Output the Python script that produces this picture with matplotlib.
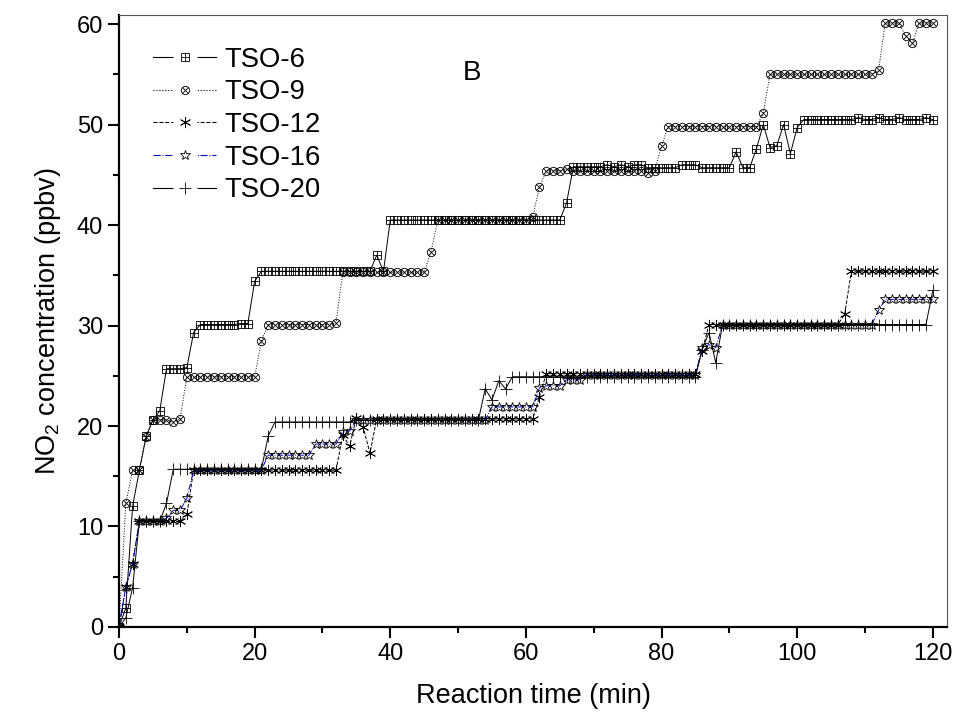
import matplotlib
matplotlib.use("Agg")
import matplotlib.pyplot as plt
from matplotlib.path import Path
from matplotlib.lines import Line2D
from matplotlib.legend_handler import HandlerTuple
from matplotlib.ticker import MultipleLocator

plt.rcParams['font.family'] = ['Liberation Sans', 'DejaVu Sans']
plt.rcParams['mathtext.default'] = 'regular'

# reaction time, one reading per minute
time_min = list(range(121))

tso6 = [0, 1.9, 12.0, 15.6, 19.0, 20.6, 21.5, 25.7, 25.7, 25.7,
        25.8, 29.3, 30.1, 30.1, 30.1, 30.1, 30.1, 30.1, 30.2, 30.2,
        34.4, 35.4, 35.4, 35.4, 35.4, 35.4, 35.4, 35.4, 35.4, 35.4,
        35.4, 35.4, 35.4, 35.4, 35.4, 35.4, 35.4, 35.4, 37.0, 35.4,
        40.5, 40.5, 40.5, 40.5, 40.5, 40.5, 40.5, 40.5, 40.5, 40.5,
        40.5, 40.5, 40.5, 40.5, 40.5, 40.5, 40.5, 40.5, 40.5, 40.5,
        40.5, 40.5, 40.5, 40.5, 40.5, 40.5, 42.2, 45.8, 45.8, 45.8,
        45.8, 45.8, 46.0, 45.8, 46.0, 45.8, 46.0, 46.0, 45.7, 45.7,
        45.7, 45.7, 45.7, 46.0, 46.0, 46.0, 45.7, 45.7, 45.7, 45.7,
        45.7, 47.3, 45.7, 45.7, 47.6, 50.0, 47.7, 47.9, 50.0, 47.1,
        49.7, 50.5, 50.5, 50.5, 50.5, 50.5, 50.5, 50.5, 50.5, 50.7,
        50.5, 50.5, 50.7, 50.5, 50.5, 50.7, 50.5, 50.5, 50.5, 50.7,
        50.5]

tso9 = [0, 12.3, 15.6, 15.6, 18.9, 20.6, 20.6, 20.6, 20.4, 20.7,
        24.9, 24.9, 24.9, 24.9, 24.9, 24.9, 24.9, 24.9, 24.9, 24.9,
        24.9, 28.5, 30.1, 30.1, 30.1, 30.1, 30.1, 30.1, 30.1, 30.1,
        30.1, 30.1, 30.3, 35.3, 35.3, 35.3, 35.3, 35.3, 35.3, 35.3,
        35.3, 35.3, 35.3, 35.3, 35.3, 35.3, 37.3, 40.5, 40.5, 40.5,
        40.5, 40.5, 40.5, 40.5, 40.5, 40.5, 40.5, 40.5, 40.5, 40.5,
        40.5, 40.8, 43.8, 45.4, 45.4, 45.4, 45.6, 45.4, 45.4, 45.4,
        45.4, 45.4, 45.4, 45.4, 45.4, 45.4, 45.4, 45.4, 45.2, 45.4,
        47.9, 49.8, 49.8, 49.8, 49.8, 49.8, 49.8, 49.8, 49.8, 49.8,
        49.8, 49.8, 49.8, 49.8, 49.8, 51.1, 55.0, 55.0, 55.0, 55.0,
        55.0, 55.0, 55.0, 55.0, 55.0, 55.0, 55.0, 55.0, 55.0, 55.0,
        55.0, 55.0, 55.4, 60.1, 60.1, 60.1, 58.8, 58.1, 60.1, 60.1,
        60.1]

tso12 = [0, 4.0, 6.3, 10.5, 10.5, 10.5, 10.5, 10.5, 10.5, 10.5,
         11.2, 15.6, 15.6, 15.6, 15.6, 15.6, 15.6, 15.6, 15.6, 15.6,
         15.6, 15.6, 15.6, 15.6, 15.6, 15.6, 15.6, 15.6, 15.6, 15.6,
         15.6, 15.6, 15.6, 19.1, 18.0, 20.8, 19.9, 17.3, 20.7, 20.7,
         20.7, 20.7, 20.7, 20.7, 20.7, 20.7, 20.7, 20.7, 20.7, 20.7,
         20.7, 20.7, 20.7, 20.7, 20.7, 20.7, 20.7, 20.7, 20.7, 20.7,
         20.7, 20.7, 22.9, 25.2, 25.2, 25.2, 25.2, 25.2, 25.2, 25.2,
         25.2, 25.2, 25.2, 25.2, 25.2, 25.2, 25.2, 25.2, 25.2, 25.2,
         25.2, 25.2, 25.2, 25.2, 25.2, 25.2, 27.5, 30.1, 30.1, 30.1,
         30.1, 30.1, 30.1, 30.1, 30.1, 30.1, 30.1, 30.1, 30.1, 30.1,
         30.1, 30.1, 30.1, 30.1, 30.1, 30.1, 30.1, 31.1, 35.4, 35.4,
         35.4, 35.4, 35.4, 35.4, 35.4, 35.4, 35.4, 35.4, 35.4, 35.4,
         35.4]

tso16 = [0, 4.0, 6.3, 10.5, 10.5, 10.5, 10.5, 10.8, 11.6, 11.6,
         12.8, 15.6, 15.6, 15.6, 15.6, 15.6, 15.6, 15.6, 15.6, 15.6,
         15.6, 15.6, 17.1, 17.1, 17.1, 17.1, 17.1, 17.1, 17.1, 18.2,
         18.2, 18.2, 18.2, 19.4, 19.5, 20.6, 20.6, 20.6, 20.6, 20.6,
         20.6, 20.6, 20.6, 20.6, 20.6, 20.6, 20.6, 20.6, 20.6, 20.6,
         20.6, 20.6, 20.6, 20.6, 20.6, 21.9, 21.9, 21.9, 21.9, 21.9,
         21.9, 21.9, 23.8, 24.0, 24.0, 24.0, 24.6, 24.6, 24.6, 25.1,
         25.1, 25.1, 25.1, 25.1, 25.1, 25.1, 25.1, 25.1, 25.1, 25.1,
         25.1, 25.1, 25.1, 25.1, 25.1, 25.1, 27.8, 28.1, 27.8, 30.1,
         30.1, 30.1, 30.1, 30.1, 30.1, 30.1, 30.1, 30.1, 30.1, 30.1,
         30.1, 30.1, 30.1, 30.1, 30.1, 30.1, 30.1, 30.1, 30.1, 30.1,
         30.1, 30.1, 31.5, 32.6, 32.6, 32.6, 32.6, 32.6, 32.6, 32.6,
         32.6]

tso20 = [0, 0.9, 3.9, 10.5, 10.5, 10.5, 10.5, 12.3, 15.7, 15.7,
         15.7, 15.7, 15.7, 15.7, 15.7, 15.7, 15.7, 15.7, 15.7, 15.7,
         15.7, 15.7, 19.0, 20.4, 20.4, 20.4, 20.4, 20.4, 20.4, 20.4,
         20.4, 20.4, 20.4, 20.4, 20.4, 20.6, 20.6, 20.6, 20.6, 20.6,
         20.6, 20.6, 20.6, 20.6, 20.6, 20.6, 20.6, 20.6, 20.6, 20.6,
         20.6, 20.6, 20.6, 20.6, 23.7, 22.6, 24.5, 23.7, 24.9, 24.9,
         24.9, 24.9, 24.9, 24.9, 24.9, 24.9, 24.9, 24.9, 24.9, 24.9,
         24.9, 24.9, 24.9, 24.9, 24.9, 24.9, 24.9, 24.9, 24.9, 24.9,
         24.9, 24.9, 24.9, 24.9, 24.9, 24.9, 27.6, 29.3, 26.3, 30.1,
         30.1, 30.1, 30.1, 30.1, 30.1, 30.1, 30.1, 30.1, 30.1, 30.1,
         30.1, 30.1, 30.1, 30.1, 30.1, 30.1, 30.1, 30.1, 30.1, 30.1,
         30.1, 30.1, 30.1, 30.1, 30.1, 30.1, 30.1, 30.1, 30.1, 30.1,
         33.5]

labels = ["TSO-6", "TSO-9", "TSO-12", "TSO-16", "TSO-20"]


# square with a cross inside
def boxplus():
    verts = [(-1, -1), (1, -1), (1, 1), (-1, 1), (-1, -1),
             (0, -1), (0, 1), (-1, 0), (1, 0)]
    codes = [Path.MOVETO, Path.LINETO, Path.LINETO, Path.LINETO, Path.CLOSEPOLY,
             Path.MOVETO, Path.LINETO, Path.MOVETO, Path.LINETO]
    return Path(verts, codes)


# circle with an x inside
def otimes():
    d = 0.7071
    cross = Path([(-d, -d), (d, d), (-d, d), (d, -d)],
                 [Path.MOVETO, Path.LINETO, Path.MOVETO, Path.LINETO])
    return Path.make_compound_path(Path.unit_circle(), cross)


styles = [
    dict(ls="-", color="black", marker=boxplus(), ms=5.5),
    dict(ls=":", color="black", marker=otimes(), ms=6),
    dict(ls="--", color="black", marker=(6, 2, 0), ms=8),
    dict(ls="-.", color="#0000cc", marker="*", ms=7.5),
    dict(ls="-", color="black", marker="+", ms=8),
]


def main():
    fig = plt.figure(figsize=(9.56, 7.22), dpi=100)
    ax = fig.add_axes([0.1245, 0.1316, 0.8661, 0.8476])

    series = [tso6, tso9, tso12, tso16, tso20]
    handles = []
    for y, lab, st in zip(series, labels, styles):
        ax.plot(time_min, y, linestyle=st["ls"], color=st["color"], lw=0.7,
                marker=st["marker"], ms=st["ms"], mfc="none", mec="black",
                mew=0.6)
        # legend entry: line broken around the marker, like the original
        ln = Line2D([], [], linestyle=st["ls"], color=st["color"], lw=0.8)
        gap = Line2D([], [], ls="none", marker="s", ms=17, mfc="white", mec="none")
        mk = Line2D([], [], ls="none", marker=st["marker"], ms=st["ms"],
                    mfc="none", mec="black", mew=0.6)
        handles.append((ln, gap, mk))

    ax.set_xlim(0, 122.1)
    ax.set_ylim(0, 60.9)
    ax.xaxis.set_major_locator(MultipleLocator(20))
    ax.xaxis.set_minor_locator(MultipleLocator(10))
    ax.yaxis.set_major_locator(MultipleLocator(10))
    ax.yaxis.set_minor_locator(MultipleLocator(5))
    ax.tick_params(which="major", direction="out", length=8, width=1.5, labelsize=17)
    ax.tick_params(which="minor", direction="out", length=4, width=1.5)

    for side in ["left", "bottom"]:
        ax.spines[side].set_linewidth(1.6)
    for side in ["top", "right"]:
        ax.spines[side].set_linewidth(0.8)
        ax.spines[side].set_color("#555555")

    ax.set_xlabel("Reaction time (min)", fontsize=19.5, labelpad=13)
    ax.set_ylabel("NO$_2$ concentration (ppbv)", fontsize=19.5, labelpad=10)

    ax.text(52.0, 55.1, "B", fontsize=20, ha="center", va="center")

    ax.legend(handles, labels, handler_map={tuple: HandlerTuple(ndivide=1, pad=0)},
              loc="upper left", bbox_to_anchor=(0.041, 0.948), frameon=False,
              fontsize=19.8, handlelength=2.3, handletextpad=0.3,
              labelspacing=0.24, borderpad=0, borderaxespad=0)

    fig.savefig("out.png", dpi=100)


if __name__ == '__main__':
    main()
